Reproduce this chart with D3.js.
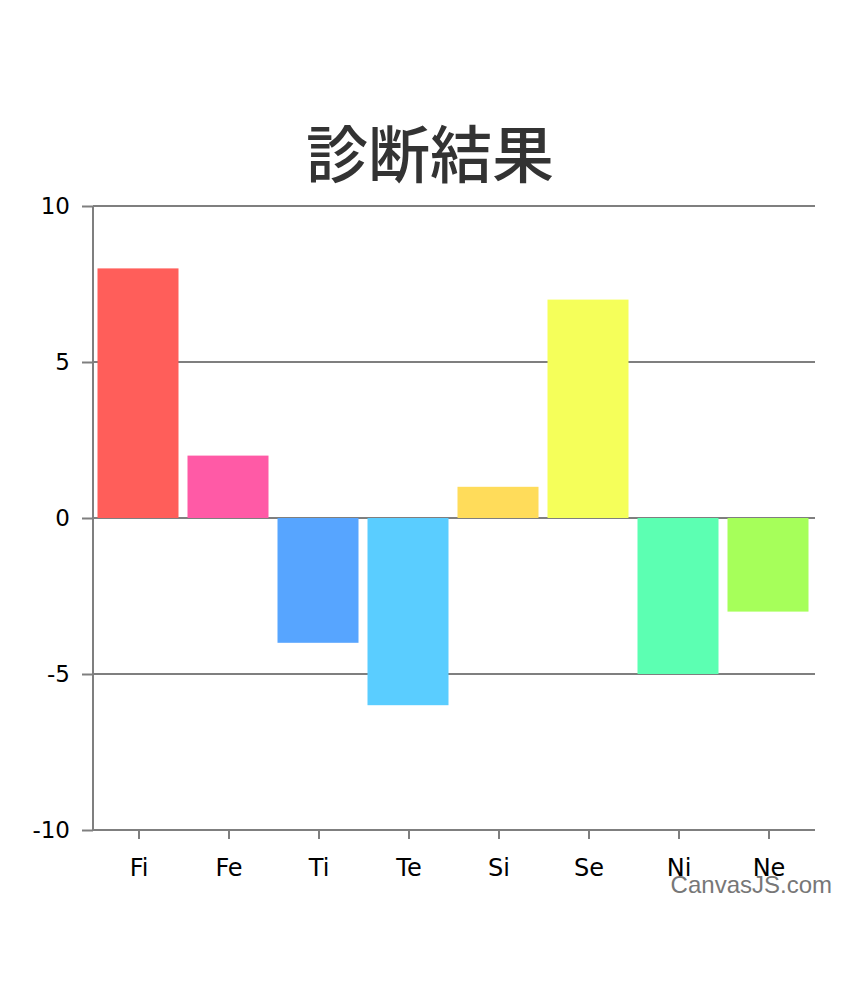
<!DOCTYPE html>
<html>
<head>
<meta charset="utf-8">
<script src="https://cdn.jsdelivr.net/npm/d3@7"></script>
<style>
  body { margin: 0; background: #fff; }
</style>
</head>
<body>
<script>
const categories = ["Fi", "Fe", "Ti", "Te", "Si", "Se", "Ni", "Ne"];
const values = [8, 2, -4, -6, 1, 7, -5, -3];
const barColors = ["#FF5E5A", "#FF5AA6", "#57A5FF", "#5ACDFF", "#FFDC5A", "#F5FF5A", "#5CFFB2", "#A6FF5A"];
const yTicks = [-10, -5, 0, 5, 10];
const titleText = "診断結果";

let canvasW = 858;
let canvasH = 999;
let margin = ({top: 206, right: 43, bottom: 169, left: 93});

let svg = d3.select("body")
  .append("svg")
    .attr("width", canvasW)
    .attr("height", canvasH)
    .style("background-color", "#fff");

let xScale = d3.scaleBand()
  .domain(categories)
  .range([margin.left, canvasW - margin.right - 2])
  .paddingInner(0.1)
  .paddingOuter(0.05);

let yScale = d3.scaleLinear()
  .domain([-10, 10])
  .range([canvasH - margin.bottom, margin.top]);

const grey = "#7f7f7f";

// gridlines (not at the bottom)
svg.append("g")
  .selectAll("line")
  .data(yTicks.filter(d => d > -10))
  .enter()
    .append("line")
    .attr("x1", margin.left)
    .attr("x2", canvasW - margin.right)
    .attr("y1", d => yScale(d))
    .attr("y2", d => yScale(d))
    .attr("stroke", grey)
    .attr("stroke-width", 2);

// bars
svg.append("g")
  .selectAll("rect")
  .data(values)
  .enter()
    .append("rect")
    .attr("x", (d, i) => xScale(categories[i]))
    .attr("width", xScale.bandwidth())
    .attr("y", d => yScale(Math.max(0, d)))
    .attr("height", d => Math.abs(yScale(d) - yScale(0)))
    .attr("fill", (d, i) => barColors[i]);

// y axis
let yAxis = svg.append("g")
  .attr("transform", "translate(" + margin.left + ",0)");
d3.axisLeft(yScale)
  .tickValues(yTicks)
  .tickFormat(d => String(d))
  .tickSize(11)
  .tickPadding(12)(yAxis);
yAxis.select(".domain").attr("stroke", grey).attr("stroke-width", 2)
  .attr("d", "M0," + yScale(-10) + "V" + yScale(10));
yAxis.selectAll(".tick line").attr("stroke", grey).attr("stroke-width", 2);
yAxis.selectAll(".tick text")
  .attr("fill", "#000")
  .attr("font-family", "DejaVu Sans, sans-serif")
  .attr("font-size", "23px");

// x axis, labels shifted right a little like the reference ticks
let xAxis = svg.append("g")
  .attr("transform", "translate(1," + yScale(-10) + ")");
d3.axisBottom(xScale)
  .tickSize(9)
  .tickPadding(20)(xAxis);
xAxis.select(".domain").attr("stroke", grey).attr("stroke-width", 2)
  .attr("d", "M" + (margin.left - 1) + ",0H" + (canvasW - margin.right - 1));
xAxis.selectAll(".tick line").attr("stroke", grey).attr("stroke-width", 2);
xAxis.selectAll(".tick text")
  .attr("fill", "#000")
  .attr("font-family", "DejaVu Sans, sans-serif")
  .attr("font-size", "24px");

// title
svg.append("text")
  .attr("x", 430)
  .attr("y", 178)
  .attr("text-anchor", "middle")
  .attr("font-family", "Noto Sans CJK JP, sans-serif")
  .attr("font-weight", 500)
  .attr("font-size", "62px")
  .attr("fill", "#333")
  .text(titleText);

// credit (sits over the last labels, as in the reference)
svg.append("text")
  .attr("x", 832)
  .attr("y", 893)
  .attr("text-anchor", "end")
  .attr("font-family", "Liberation Sans, Arial, sans-serif")
  .attr("font-size", "24px")
  .attr("fill", "#777")
  .text("CanvasJS.com");
</script>
</body>
</html>
